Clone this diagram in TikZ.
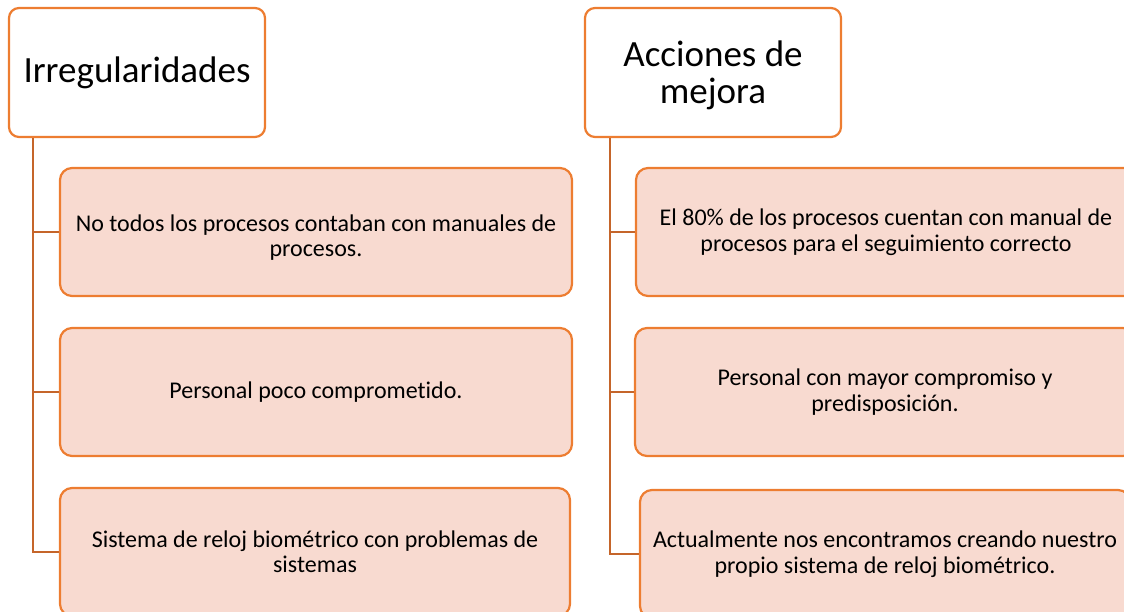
\documentclass[tikz,border=0pt]{standalone}
\usepackage{fontspec}
\setmainfont{Carlito}[Ligatures={NoCommon}]
\usetikzlibrary{calc}
\definecolor{bord}{HTML}{ED7D31}
\definecolor{boxfill}{HTML}{F8DAD0}
\definecolor{conn}{HTML}{C5652A}
\tikzset{
  headbox/.style={draw=bord, line width=2.2pt, fill=white, rounded corners=10pt, align=center,
    font=\fontsize{37}{37}\selectfont, inner sep=0pt, minimum width=256pt, minimum height=129pt},
  childbox/.style={draw=bord, line width=2.2pt, fill=boxfill, rounded corners=12pt, align=center,
    font=\fontsize{24}{25.5}\selectfont, inner sep=0pt, minimum height=128pt},
  link/.style={draw=conn, line width=2.6pt}
}
\newcommand{\lowered}[2]{\raisebox{-#1}[\height][\depth]{\begin{tabular}{@{}c@{}}#2\end{tabular}}}
\begin{document}
\begin{tikzpicture}[x=1pt,y=-1pt]
\useasboundingbox (0,0) rectangle (1124,612);
\clip (0,0) rectangle (1124,612);
% headers
\node[headbox] (LH) at (137,72.5) {\lowered{3pt}{Irregularidades}};
\node[headbox] (RH) at (713,72.5) {\lowered{5pt}{Acciones de\\mejora}};
% left children
\node[childbox, minimum width=512pt] (L1) at (316,232) {\lowered{7pt}{No todos los procesos contaban con manuales de\\procesos.}};
\node[childbox, minimum width=512pt] (L2) at (316,392) {Personal poco comprometido.};
\node[childbox, minimum width=510pt] (L3) at (315,552) {Sistema de reloj biométrico con problemas de\\sistemas};
% right children
\node[childbox, minimum width=500pt] (R1) at (886,232) {El 80\% de los procesos cuentan con manual de\\procesos para el seguimiento correcto};
\node[childbox, minimum width=500pt] (R2) at (885,392) {Personal con mayor compromiso y\\predisposición.};
\node[childbox, minimum width=490pt] (R3) at (885,554) {Actualmente nos encontramos creando nuestro\\propio sistema de reloj biométrico.};
% trunk coordinates
\coordinate (lt) at ($(LH.south west)+(25,0)$);
\coordinate (rt) at ($(RH.south west)+(26,0)$);
% connectors
\draw[link] (lt) |- (L3.west);
\draw[link] (lt|-L1.west) -- (L1.west);
\draw[link] (lt|-L2.west) -- (L2.west);
\draw[link] (rt) |- (R3.west);
\draw[link] (rt|-R1.west) -- (R1.west);
\draw[link] (rt|-R2.west) -- (R2.west);
\end{tikzpicture}
\end{document}
